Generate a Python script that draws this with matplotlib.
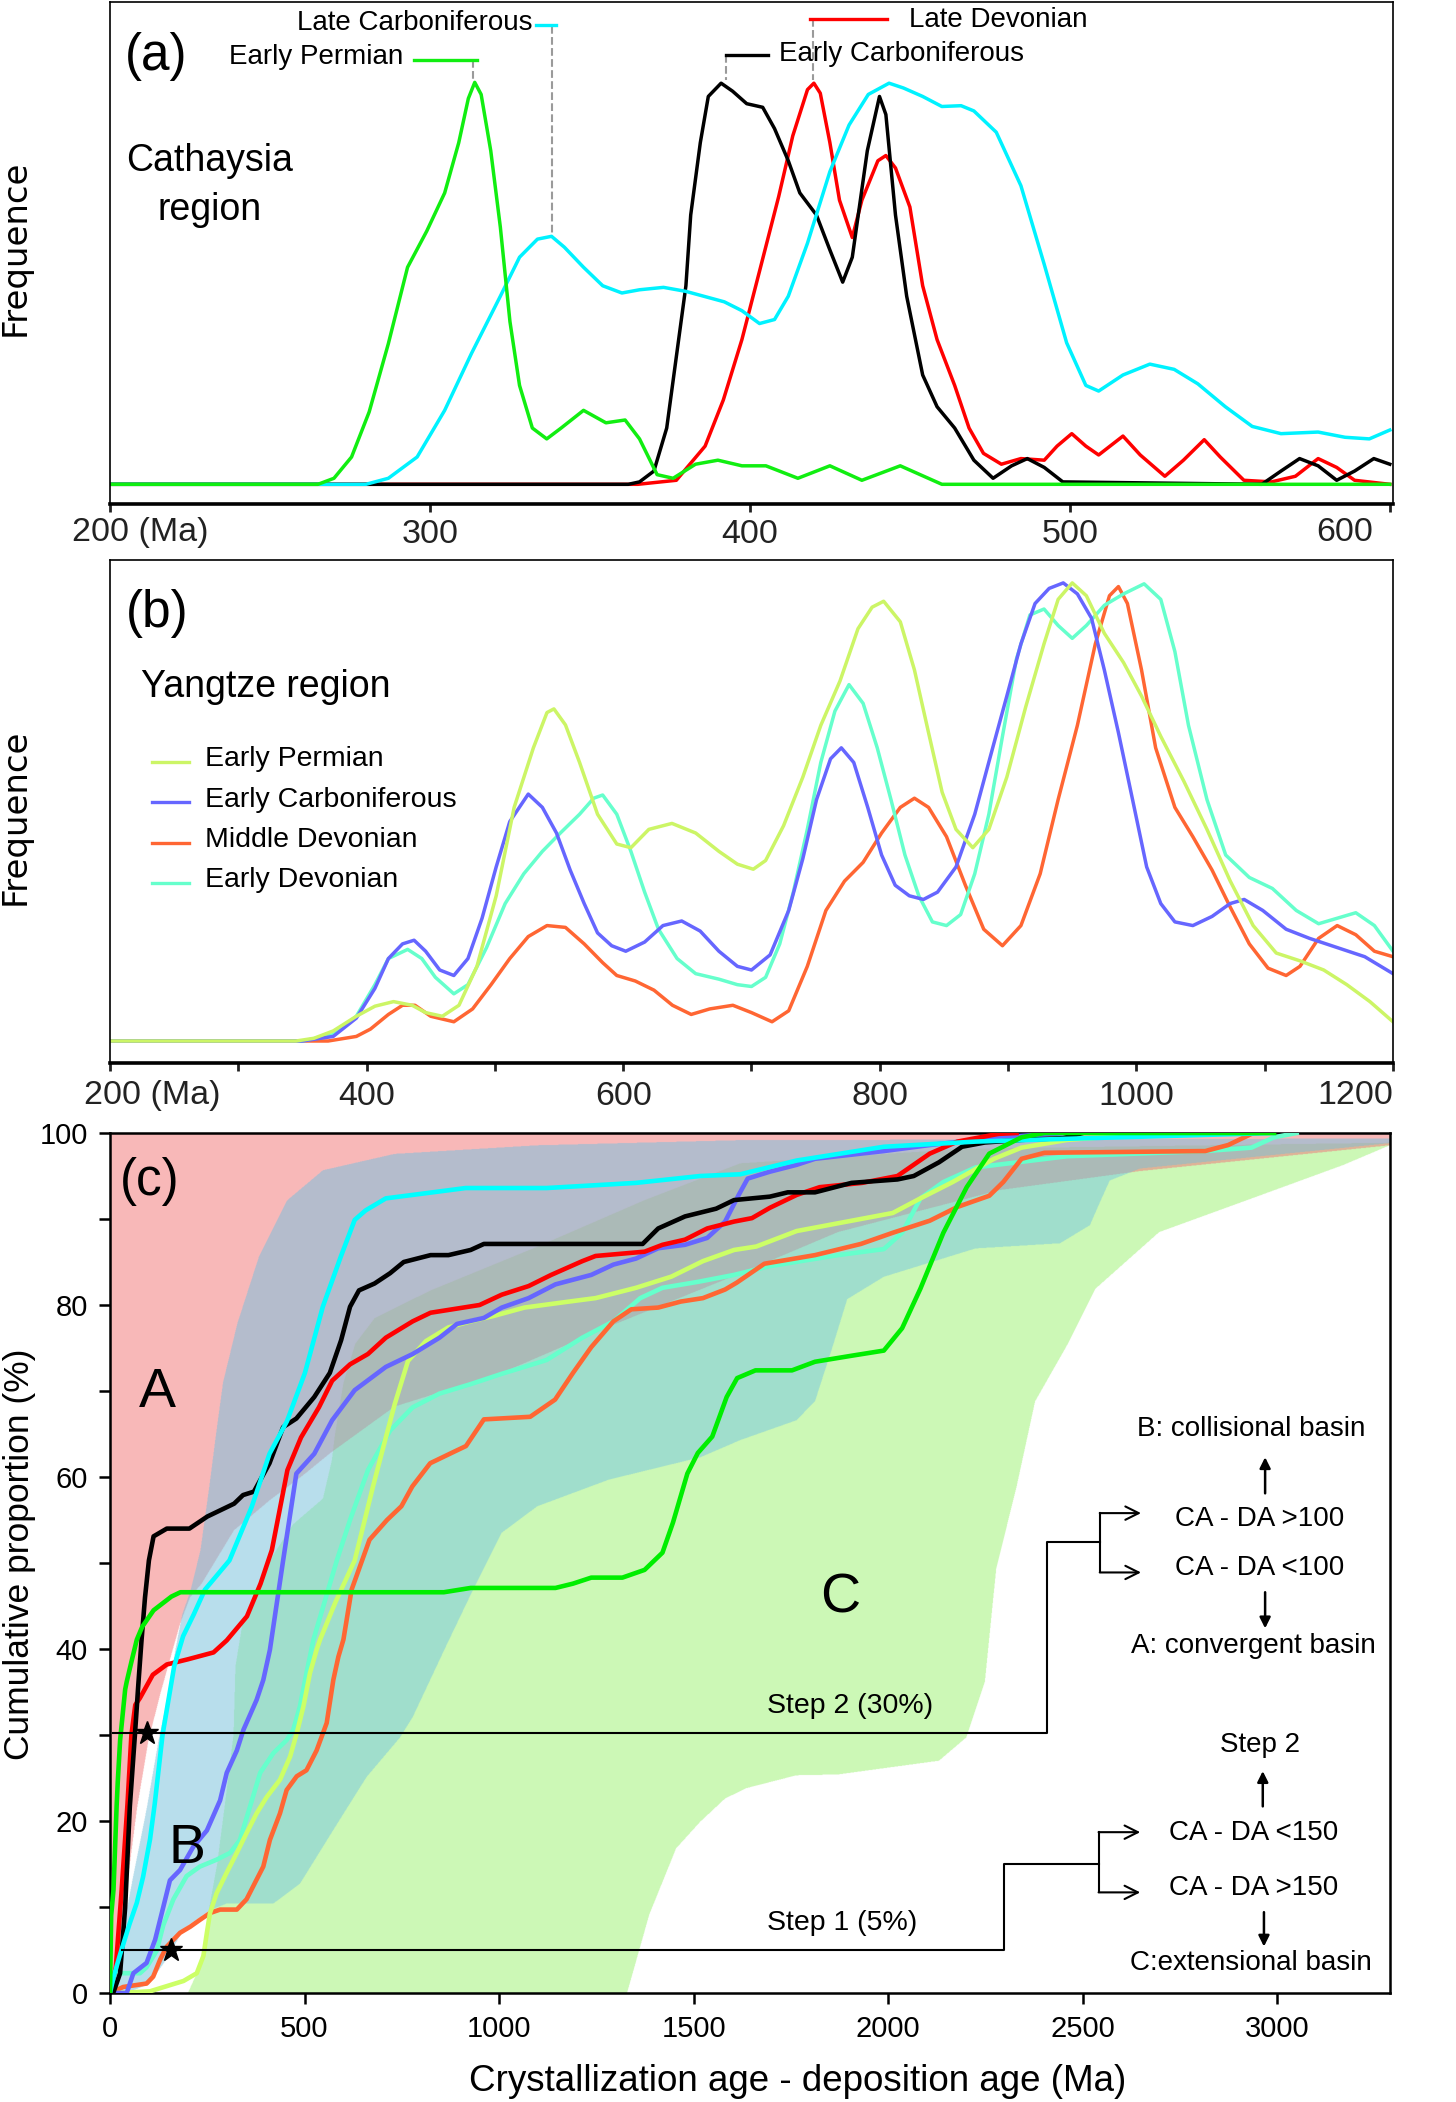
import numpy as np
import matplotlib
matplotlib.use("Agg")
import matplotlib.pyplot as plt
from matplotlib.path import Path
from matplotlib.transforms import ScaledTranslation

plt.rcParams['font.family'] = ['Liberation Sans', 'DejaVu Sans']

# ---------------- panel (a): Cathaysia region, detrital zircon age spectra
a_ep_age = [200, 265, 270, 275.5, 281, 287, 293, 299, 304.6, 309, 312, 314, 316, 319, 322, 325, 328, 332,
            336.5, 341, 348, 355, 361, 365.5, 371, 376, 383, 390, 397.5, 405, 415, 425, 435, 447, 460, 600]
a_ep_freq = [0, 0, 1.5, 6.8, 18, 35, 54, 63, 72.5, 85, 96, 100, 97, 83, 64, 40.5, 24.6, 14,
             11.3, 14, 18.4, 15.3, 16, 11.3, 2.4, 1.5, 5, 6, 4.6, 4.6, 1.5, 4.6, 1, 4.6, 0, 0]

a_lc_age = [200, 280, 287, 296, 304.6, 313, 322, 328, 333.6, 338, 342, 348, 354, 360, 365.5, 373, 380, 392,
            397.5, 403, 407.7, 412, 418, 425, 431, 437, 443.5, 448, 454, 460, 466, 470, 477, 484.7, 492, 499,
            505, 509, 516.6, 525, 532.6, 540, 548.6, 557, 566, 577.6, 586, 593.6, 600]
a_lc_freq = [0, 0, 1.5, 6.8, 18.4, 32.6, 46.8, 56.5, 61, 61.7, 59, 54, 49.4, 47.6, 48.4, 49, 48, 45.4,
             43.2, 40, 41, 46.8, 60, 77.8, 89.4, 97, 99.8, 98.6, 96.5, 94, 94.2, 92.9, 87.6, 74.3, 54.7, 35.2,
             24.6, 23.2, 27.2, 29.9, 28.6, 25, 19.3, 14.4, 12.6, 13, 11.7, 11.3, 13.5]

a_ec_age = [200, 362, 365.5, 370, 374, 377, 380, 381.5, 384.5, 387, 391, 394.6, 399, 404, 407.7, 412, 415.6,
            420.8, 425, 429, 432, 436.7, 440.5, 442.5, 445.5, 449, 454, 458.5, 464, 470, 476, 481.8, 486.7,
            492, 497.8, 560, 566, 571.8, 577.6, 583.4, 589, 595, 600]
a_ec_freq = [0, 0, 0.6, 3.3, 14, 31.7, 49.4, 67, 85, 96.5, 99.8, 97.8, 94.7, 93.8, 88.5, 80.5, 72.5,
             67, 58.3, 50.3, 56.5, 83, 96.5, 92, 67, 46.8, 27.2, 19.3, 14, 6, 1.5, 4.6, 6.4,
             4.2, 0.6, 0, 3.3, 6.4, 4.6, 1, 3.3, 6.4, 5]

a_ld_age = [200, 365, 377, 386, 391.7, 397.5, 403, 409, 413.4, 418, 420, 422, 425, 428, 432, 435, 440, 442.5,
            445.5, 450, 454, 458.5, 464, 468.5, 473, 478.6, 484.7, 492, 496, 500.6, 505, 509, 516.6, 522,
            529.7, 535.5, 542, 547, 554.4, 563, 570.5, 577.6, 583.4, 589, 600]
a_ld_freq = [0, 0, 1, 9.5, 21, 36, 53, 71.6, 86.7, 98.2, 99.8, 97.3, 85, 70.7, 61.4, 70.7, 80.5, 81.8,
             78.7, 69, 49.4, 36, 24.6, 14, 7.7, 5, 6.4, 6, 9.5, 12.6, 9.5, 7.3, 12, 7.3,
             2, 6, 11.1, 6.8, 1, 0.6, 2, 6.4, 4.2, 1, 0]

# ---------------- panel (b): Yangtze region
b_ep_age = [200, 345, 359, 374, 392, 406.5, 421, 435.5, 446, 459, 472, 486, 501, 515, 530, 540.6, 546, 555,
            566, 580, 595, 606, 620, 638, 656.5, 674.6, 689, 701.4, 711, 725, 740, 754, 769, 783, 794, 803,
            816, 827, 838, 848.6, 859.4, 872.5, 885, 899, 913.8, 928, 939, 950, 961, 975, 990, 1004, 1019,
            1037, 1055, 1073, 1091, 1109, 1127.5, 1146, 1164, 1182, 1200]
b_ep_freq = [0, 0, 0.6, 2.2, 5.4, 7.6, 8.6, 7.8, 6.2, 5.4, 7.8, 16.3, 31.7, 51, 64, 71.7, 72.5, 69,
             60.8, 49.5, 43, 42.2, 46.2, 47.5, 45.4, 41.4, 38.6, 37.5, 39.4, 47, 57.6, 68.9, 78.6, 90, 94.7, 96,
             91.5, 81, 67.3, 54.3, 46.2, 42.2, 46.2, 57.6, 73, 86.7, 96.4, 100, 97.2, 89, 82.6, 75.3, 66.5,
             56.7, 46.2, 35, 25.2, 19.2, 17.5, 15.5, 12.3, 8.6, 4.2]

b_ec_age = [200, 350, 374, 392, 406.5, 417, 428, 437, 446, 457, 468, 479, 490, 501, 511.6, 526, 537, 548,
            558.7, 569.6, 580, 591, 602, 616.7, 631, 645.6, 660, 674.6, 689, 700, 714.5, 729, 740, 750.7,
            761.6, 770, 779.7, 790.6, 801.4, 812, 823, 834, 845, 859.4, 874, 888, 899, 910, 921, 932, 943,
            954, 965, 975, 986, 997, 1008, 1019, 1030, 1044, 1059, 1073, 1084, 1098.5, 1116.7, 1135,
            1156.5, 1178, 1200]
b_ec_freq = [0, 0, 1, 5, 11.5, 18, 21.2, 22, 19.6, 15.5, 14.3, 18, 26.8, 38, 47.9, 53.9, 51, 45.4,
             37.3, 30, 23.6, 20.8, 19.6, 21.6, 25.2, 26.2, 24, 19.6, 16.3, 15.5, 18.8, 28.5, 39.8, 52.7,
             61.6, 64, 60.8, 51, 40.6, 34, 31.7, 30.9, 32.5, 38, 49.5, 64, 75.3, 86.7, 95.5, 98.8, 100,
             97.6, 92.3, 81, 67.3, 52.7, 38, 30, 26, 25.2, 27.2, 30, 30.9, 28.5, 24.4, 22.4,
             20.4, 18.4, 14.7]

b_md_age = [200, 370, 392, 403, 417, 428, 437.7, 450, 468, 482.6, 497, 511.6, 526, 540.6, 555, 569.6, 584,
            595, 609.4, 624, 638.4, 653, 667.4, 685.5, 700, 716, 729, 743.5, 758, 772.5, 787, 801.4, 816,
            827, 838, 852, 866.7, 881, 895.6, 910, 925, 939, 954, 968, 979, 986, 993, 1004, 1015, 1030,
            1044, 1059, 1073, 1088, 1102.6, 1116.7, 1127.5, 1142, 1156.5, 1171, 1185.5, 1200]
b_md_freq = [0, 0, 1, 2.6, 5.8, 7.8, 7.8, 5.4, 4.2, 7, 12.3, 18, 22.8, 25.2, 24.8, 21.2, 17.1,
             14.3, 13.1, 11.1, 7.8, 5.8, 7, 7.8, 6.2, 4.2, 6.6, 16.3, 28.5, 34.9, 39, 45.4, 51,
             53, 51, 44.6, 34, 24.4, 20.8, 25.2, 36.5, 52.7, 68.9, 86.7, 97.2, 99.2, 95.5, 81, 64, 51,
             44.6, 37.3, 29.3, 21.2, 15.9, 14.3, 16.3, 22.4, 25.2, 23.2, 19.6, 18.4]

b_ed_age = [200, 350, 374, 392, 406.5, 417, 432, 443, 453.6, 468, 479, 493.5, 508, 522.5, 537, 551, 566,
            577, 584, 595, 606, 616.7, 627.5, 642, 656.5, 674.6, 689, 700, 711, 722, 732.6, 743.5, 754,
            765, 776, 787, 798, 808.7, 819.6, 830.4, 841, 852, 863, 874, 885, 895.6, 906.5, 917, 928, 939,
            950, 961, 975, 990, 1006, 1019, 1030, 1040.6, 1055, 1069.6, 1088, 1106, 1124.6, 1142, 1156.5,
            1171, 1185.5, 1200]
b_ed_freq = [0, 0, 1.4, 5.4, 12.3, 18, 20, 18, 13.9, 10.3, 12.3, 20.4, 30, 36.5, 41.4, 45.4, 49.5,
             53, 53.7, 49.5, 41.4, 32.5, 24.4, 18, 14.7, 13.5, 12.3, 11.9, 13.9, 21.2, 32.5, 46.2, 60.8,
             72, 77.8, 73.7, 64, 52.7, 40.6, 31.7, 26, 25.2, 27.6, 36.5, 49.5, 66.5, 83.4, 93, 94.3, 90.7,
             87.9, 90.7, 95.1, 97.6, 99.8, 96.4, 85, 68.9, 52.7, 40.6, 35.7, 33.3, 28.5, 25.6, 26.8,
             28, 25.2, 19.6]

# ---------------- panel (c): cumulative proportion curves (CA - DA, Ma)
c_ep_x = [0, 3, 9, 17, 20, 26, 39, 43, 55, 69, 83, 112, 158, 181, 858, 927, 1145, 1190, 1237, 1317, 1374,
          1420, 1447, 1484, 1511, 1548, 1585, 1612, 1659, 1753, 1812, 1906, 1989, 2036, 2083, 2142, 2202,
          2260, 2343, 2402, 2992]
c_ep_y = [0, 9, 12, 21.7, 24.6, 29.4, 35.3, 36.2, 38.5, 41.1, 42.6, 44.5, 46.1, 46.6, 46.6, 47.1, 47.1,
          47.6, 48.3, 48.3, 49.2, 51.2, 54.7, 60.4, 62.8, 64.7, 69.3, 71.5, 72.4, 72.4, 73.4, 74.1, 74.7,
          77.3, 81.9, 88.4, 93.7, 97.6, 99.5, 100, 100]

c_lc_x = [0, 10, 26, 50, 69, 85, 103, 115, 125, 135, 150, 165, 188, 215, 244, 307, 364, 410, 455, 501, 547,
          593, 629, 657, 709, 778, 914, 1122, 1352, 1517, 1620, 1765, 1989, 2225, 2437, 2990]
c_lc_y = [0, 2, 4.5, 8, 10.5, 13.5, 17.9, 22, 26, 30, 34, 38, 41.5, 44, 46.9, 50.3, 56.5, 62.7, 66.5,
          72.1, 79.8, 85.6, 89.9, 91, 92.4, 92.8, 93.6, 93.6, 94.2, 95, 95.2, 96.8, 98.4, 99, 99.3, 100]

c_ec_x = [0, 9, 26, 39, 51, 64, 73, 81, 90, 100, 112, 146, 204, 250, 319, 342, 370, 410, 445, 479, 525, 565,
          594, 617, 640, 680, 720, 755, 824, 870, 927, 961, 1369, 1409, 1478, 1558, 1604, 1696, 1742, 1812,
          1906, 2024, 2066, 2131, 2190, 2249, 2343, 2450, 2500]
c_ec_y = [0, 0.1, 2.3, 10, 21.7, 30, 36, 41, 46, 50.3, 53.1, 54, 54, 55.4, 56.9, 57.9, 58.3, 61.6, 65.8,
          66.8, 69.3, 72.1, 75.9, 79.8, 81.7, 82.5, 83.7, 85, 85.8, 85.8, 86.4, 87.1, 87.1, 88.9, 90.3, 91.2,
          92.2, 92.6, 93.1, 93.1, 94.2, 94.6, 95, 96.6, 98.4, 98.9, 99.2, 99.4, 100]

c_ld_x = [0, 15, 30, 45, 55, 65, 77, 110, 146, 200, 266, 300, 352, 387, 416, 456, 491, 537, 571, 617, 663,
          709, 778, 824, 950, 1007, 1076, 1134, 1214, 1248, 1374, 1420, 1478, 1535, 1604, 1650, 1696, 1765,
          1824, 1933, 2024, 2107, 2178, 2284, 2330]
c_ld_y = [0, 3, 12, 22, 30, 33.5, 34.3, 37, 38.2, 38.8, 39.6, 41, 43.8, 47.6, 51.5, 60.8, 64.6, 68.1,
          71.2, 73.1, 74.3, 76.2, 78.1, 79.1, 80, 81.2, 82.2, 83.5, 85.1, 85.7, 86.2, 87, 87.6, 88.9, 89.7,
          90.1, 91.3, 92.8, 93.7, 94.2, 95, 97.6, 99, 99.9, 100]

c_yep_x = [0, 26, 103, 146, 189, 223, 240, 249, 257, 274, 300, 326, 351, 377, 403, 437, 463, 480, 497, 514,
           531, 540, 580, 629, 676, 709, 732, 766, 812, 870, 927, 984, 1065, 1180, 1248, 1352, 1443, 1524,
           1604, 1661, 1765, 1906, 2012, 2083, 2166, 2272, 2343, 2461, 2579, 2700]
c_yep_y = [0, 0, 0.2, 0.8, 1.4, 2.3, 4.3, 7, 9.3, 11.6, 14, 16.3, 18.6, 20.9, 22.8, 24.8, 27.5, 30.2,
           33.3, 37.2, 39.9, 41.1, 45.5, 50.3, 58.9, 64.6, 68.5, 73.5, 75.8, 77.4, 78.1, 78.7, 79.7, 80.4,
           80.8, 82, 83.3, 85.1, 86.4, 86.8, 88.6, 89.8, 90.7, 92.4, 94.3, 97, 98.3, 99.2, 99.6, 100]

c_yec_x = [0, 43, 60, 94, 116, 137, 154, 180, 214, 249, 283, 300, 326, 343, 377, 394, 411, 445, 479, 525,
           571, 629, 709, 778, 847, 892, 961, 1007, 1076, 1145, 1237, 1294, 1352, 1409, 1478, 1535, 1581,
           1616, 1639, 1696, 1765, 1812, 1989, 2107, 2284, 2461]
c_yec_y = [0, 0, 2.3, 3.5, 6.2, 10, 13.1, 14.3, 17, 18.9, 22.4, 25.6, 28.2, 30.6, 34.1, 36.4, 39.9, 50.3,
           60.4, 62.7, 66.6, 70.1, 72.8, 74.3, 76.2, 77.8, 78.5, 79.7, 80.8, 82.4, 83.5, 84.7, 85.4, 86.6,
           87, 87.8, 89.7, 92.8, 94.7, 95.5, 96.3, 97, 97.9, 98.6, 99.5, 100]

c_md_x = [0, 34, 94, 111, 129, 146, 163, 180, 206, 231, 257, 283, 326, 351, 377, 394, 411, 437, 454, 480,
          505, 531, 557, 574, 587, 600, 621, 667, 712, 749, 777, 823, 878, 915, 961, 1080, 1144, 1190, 1237,
          1294, 1340, 1409, 1467, 1524, 1581, 1611, 1682, 1812, 1930, 2012, 2107, 2178, 2260, 2296, 2343,
          2402, 2815, 2874, 2934, 2950]
c_md_y = [0, 0.7, 1.1, 1.9, 3.9, 5.4, 6.2, 7, 7.7, 8.5, 9.3, 9.7, 9.7, 10.9, 13.2, 14.7, 17.8, 20.9,
          23.6, 25.2, 25.9, 28.2, 31.4, 36.4, 39.1, 41.1, 46.9, 52.7, 55, 56.6, 58.9, 61.6, 62.8, 63.6,
          66.7, 67, 69, 72.1, 75.1, 78.1, 79.5, 79.7, 80.4, 80.8, 81.8, 82.6, 84.8, 85.8, 87.1, 88.4, 89.8,
          91.4, 92.7, 94.3, 97, 97.7, 97.9, 98.6, 99.9, 100]

c_ed_x = [0, 8, 77, 94, 120, 137, 163, 197, 231, 274, 309, 334, 360, 386, 420, 454, 471, 488, 505, 523, 583,
          617, 663, 720, 778, 847, 927, 1007, 1122, 1214, 1294, 1363, 1420, 1512, 1604, 1694, 1871, 1989,
          2036, 2083, 2142, 2225, 2461, 2815, 2934, 2992, 3050]
c_ed_y = [0, 2.3, 2.3, 3, 4.9, 7.9, 10.9, 13.6, 14.7, 15.5, 16.3, 17.8, 21.7, 25.6, 27.9, 29.4, 30.6,
          33.3, 37.2, 41.1, 50.3, 55, 60.8, 65.4, 68.1, 69.7, 70.8, 72, 73.6, 76.2, 78.1, 80.8, 82, 82.7,
          83.5, 84.5, 85.8, 86.5, 88.4, 92.4, 94.3, 96, 97.3, 97.9, 98.3, 99.5, 100]

# ---------------- panel (c): tectonic fields (A convergent, B collisional, C extensional)
A_lower_x = [0, 20, 47, 69, 98, 130, 155, 180, 205, 235, 318, 410, 501, 566, 731, 1006, 1282, 1620, 1871,
             2288, 2648, 3290]
A_lower_y = [0, 4, 13.8, 21.5, 29.3, 35, 39, 43, 46, 47.6, 53.8, 57.3, 60.4, 62.8, 68.2, 72.1, 77.5, 83.7,
             88.5, 93.4, 95.6, 98.6]
B_left_x = [0, 8, 34, 60, 94, 124, 150, 168, 185, 207, 232, 255, 272, 290, 327, 382, 455, 547, 731, 1098,
            1620, 2500, 3290]
B_left_y = [0, 1.8, 7.6, 13.8, 21.5, 29.3, 35, 40, 44, 46.9, 51.5, 59, 65, 71, 77.9, 85.6, 92.2, 95.7,
            97.6, 98.6, 99.2, 99.3, 99.4]
B_lower_x = [0, 60, 100, 146, 190, 257, 300, 420, 488, 573, 659, 745, 778, 860, 933, 1006, 1098, 1282,
             1517, 1620, 1764, 1812, 1859, 1895, 1989, 2225, 2442, 2519, 2545, 2570, 2648, 3290]
B_lower_y = [0, 0.3, 1, 4, 7.5, 9.6, 10.4, 10.4, 12.7, 18.9, 25.1, 29.7, 32.1, 40, 46.9, 53.5, 56.6, 59.7,
             62.3, 64.3, 66.6, 68.8, 75.4, 80.7, 83.3, 86.6, 87.2, 89.3, 92, 94.5, 95.9, 98.85]
C_left_x = [200, 223, 245, 255, 275, 295, 317, 322, 340, 375, 420, 470, 547, 570, 578, 600, 630, 680, 823,
            1098, 1373, 1620, 2200, 3290]
C_left_y = [0, 2.3, 6, 10, 15, 22, 30, 38, 43, 47, 51, 54.5, 57.5, 62, 65, 71, 75.5, 78.5, 81.7, 86.8,
            92.2, 96.5, 98.2, 98.9]
C_right_x = [1329, 1386, 1455, 1517, 1581, 1635, 1764, 1871, 2131, 2201, 2249, 2278, 2331, 2378, 2461,
             2533, 2697, 2934, 3170, 3290]
C_right_y = [0, 9.1, 16.8, 19.9, 22.6, 23.8, 25.3, 25.4, 27, 29.7, 36.2, 49.3, 59, 68.8, 75.4, 81.9, 88.5,
             92.4, 96.3, 98.6]

# colour of each overlap (A, B, C membership)
field_colors = {
    (0, 0, 0): '#ffffff', (1, 0, 0): '#f8b9b9', (0, 1, 0): '#b9deec', (0, 0, 1): '#ccf8b6',
    (1, 1, 0): '#b5bccc', (0, 1, 1): '#a0dfcc', (1, 0, 1): '#dfb497', (1, 1, 1): '#abbab7',
}

fig = plt.figure(figsize=(14.56, 21.02), dpi=100)
W, H = 1456, 2102
ax_a = fig.add_axes([110 / W, 1 - 504 / H, 1283 / W, 502 / H])
ax_b = fig.add_axes([110 / W, 1 - 1063 / H, 1283 / W, 503 / H])
ax_c = fig.add_axes([110 / W, 1 - 1993 / H, 1280 / W, 860 / H])

tick_col = '#222222'


def style_kde_axis(ax, ticks, labels, first, last, first_dx, last_dx, dy, pad):
    ax.set_yticks([])
    for s in ['top', 'right', 'left']:
        ax.spines[s].set_linewidth(1.2)
    ax.spines['bottom'].set_linewidth(2.6)
    ax.set_xticks(ticks)
    ax.set_xticklabels(labels)
    ax.tick_params(axis='x', direction='out', length=6, width=2, pad=pad, labelsize=24.5, colors=tick_col)
    tr = ax.get_xaxis_transform()
    ax.text(ticks[0], 0, first, ha='left', va='center', fontsize=24.5, color=tick_col,
            transform=tr + ScaledTranslation(first_dx, dy, fig.dpi_scale_trans))
    ax.text(ticks[-1], 0, last, ha='right', va='center', fontsize=24.5, color=tick_col,
            transform=tr + ScaledTranslation(last_dx, dy, fig.dpi_scale_trans))
    ax.set_ylabel('Frequence', fontsize=24.5, family='DejaVu Sans')


# ---- (a)
lw_k = 2.5
kde = dict(lw=lw_k, solid_joinstyle='round')
ax_a.plot(a_ld_age, a_ld_freq, color='#ff0000', **kde)
ax_a.plot(a_ec_age, a_ec_freq, color='black', **kde)
ax_a.plot(a_lc_age, a_lc_freq, color='#00f2ff', **kde)
ax_a.plot(a_ep_age, a_ep_freq, color='#11ee11', **kde)
ax_a.set_xlim(200, 601)
ax_a.set_ylim(-4.9, 120)
style_kde_axis(ax_a, [200, 300, 400, 500, 600], ['', '300', '400', '500', ''],
               '200 (Ma)', '600', -0.38, -0.17, -0.285, 5)
ax_a.yaxis.set_label_coords(-0.061, 0.51)

# peak labels with dashed leaders
lead = dict(ls='--', color='#9a9a9a', lw=1.5)
ax_a.plot([338, 338], [114, 62.6], **lead)
ax_a.plot([333, 339.5], [114.2, 114.2], color='#00f2ff', lw=2.4)
ax_a.text(332, 114.8, 'Late Carboniferous', ha='right', va='center', fontsize=20)
ax_a.plot([313.3, 313.3], [105.6, 100.6], **lead)
ax_a.plot([295, 314.7], [105.6, 105.6], color='#11ee11', lw=2.4)
ax_a.text(291.5, 106.2, 'Early Permian', ha='right', va='center', fontsize=20)
ax_a.plot([419.6, 419.6], [115.8, 100.6], **lead)
ax_a.plot([418.7, 443], [115.8, 115.8], color='#ff0000', lw=2.4)
ax_a.text(449.8, 115.6, 'Late Devonian', ha='left', va='center', fontsize=20)
ax_a.plot([392.6, 392.6], [106.9, 100.6], **lead)
ax_a.plot([392.6, 405.7], [106.9, 106.9], color='black', lw=2.4)
ax_a.text(409, 107.1, 'Early Carboniferous', ha='left', va='center', fontsize=20)
ax_a.text(214.5, 106.5, '(a)', ha='center', va='center', fontsize=37)
ax_a.text(231, 80.4, 'Cathaysia', ha='center', va='center', fontsize=27)
ax_a.text(231, 68.2, 'region', ha='center', va='center', fontsize=27)

# ---- (b)
ax_b.plot(b_md_age, b_md_freq, color='#ff6633', **kde)
ax_b.plot(b_ed_age, b_ed_freq, color='#66ffcc', **kde)
ax_b.plot(b_ec_age, b_ec_freq, color='#6666ff', **kde)
ax_b.plot(b_ep_age, b_ep_freq, color='#ccf566', **kde)
ax_b.set_xlim(200, 1200)
ax_b.set_ylim(-4.8, 105)
b_ticks = list(range(200, 1201, 100))
b_labels = [str(t) if (t % 200 == 0 and 200 < t < 1200) else '' for t in b_ticks]
style_kde_axis(ax_b, b_ticks, b_labels, '200 (Ma)', '1200', -0.26, 0.0, -0.325, 7)
ax_b.yaxis.set_label_coords(-0.061, 0.49)
ax_b.text(236.6, 93.4, '(b)', ha='center', va='center', fontsize=37)
ax_b.text(224, 77.3, 'Yangtze region', ha='left', va='center', fontsize=27)
b_leg = [('Early Permian', '#ccf566', 61), ('Early Carboniferous', '#6666ff', 52.1),
         ('Middle Devonian', '#ff6633', 43.2), ('Early Devonian', '#66ffcc', 34.5)]
for name, col, yy in b_leg:
    ax_b.plot([232.6, 261.6], [yy, yy], color=col, lw=2.4)
    ax_b.text(274, yy + 0.6, name, ha='left', va='center', fontsize=20.5)

# ---- (c) fields rasterised from polygons
nx, ny = 2560, 1720
gx = np.linspace(0, 3290, nx)
gy = np.linspace(0, 100, ny)
GX, GY = np.meshgrid(gx, gy)
pts = np.column_stack([GX.ravel(), GY.ravel()])


def inside(xs, ys):
    return Path(np.column_stack([xs, ys])).contains_points(pts).reshape(ny, nx)


inA = inside(A_lower_x + [3300, 3300, -10, -10], A_lower_y + [98.6, 101, 101, -1])
inB = inside([-5] + B_left_x + [3300, 3300] + B_lower_x[::-1],
             [-1] + B_left_y + [99.4, 98.85] + B_lower_y[::-1])
inC = inside(C_left_x + [3300, 3300] + C_right_x[::-1] + [1329, 200],
             C_left_y + [98.9, 98.6] + C_right_y[::-1] + [-1, -1])
img = np.ones((ny, nx, 3))
for key, col in field_colors.items():
    m = (inA == key[0]) & (inB == key[1]) & (inC == key[2])
    img[m] = matplotlib.colors.to_rgb(col)
ax_c.imshow(img, extent=[0, 3290, 0, 100], origin='lower', aspect='auto',
            interpolation='antialiased', zorder=0)

cum = dict(lw=3.3, solid_joinstyle='round', zorder=3)
ax_c.plot(c_ed_x, c_ed_y, color='#66ffcc', **cum)
ax_c.plot(c_md_x, c_md_y, color='#ff6633', **cum)
ax_c.plot(c_yep_x, c_yep_y, color='#ccff66', **cum)
ax_c.plot(c_yec_x, c_yec_y, color='#6666ff', **cum)
ax_c.plot(c_ld_x, c_ld_y, color='#ff0000', **cum)
ax_c.plot(c_ec_x, c_ec_y, color='black', **cum)
ax_c.plot(c_lc_x, c_lc_y, color='#00ffff', **cum)
ax_c.plot(c_ep_x, c_ep_y, color='#00ee00', **cum)

ax_c.set_xlim(0, 3290)
ax_c.set_ylim(0, 100)
ax_c.set_xticks(range(0, 3001, 500))
ax_c.set_yticks(range(0, 101, 10))
ax_c.set_yticklabels([str(v) if v % 20 == 0 else '' for v in range(0, 101, 10)])
ax_c.tick_params(direction='out', length=8, width=1.8, labelsize=21, pad=8)
for s in ax_c.spines.values():
    s.set_linewidth(1.8)
ax_c.set_xlabel('Crystallization age - deposition age (Ma)', fontsize=26.5)
ax_c.xaxis.set_label_coords(0.5375, -0.082)
ax_c.set_ylabel('Cumulative proportion (%)', fontsize=25.5)
ax_c.yaxis.set_label_coords(-0.058, 0.51)

# step lines, stars and decision chart
ln = dict(color='black', lw=1.5, zorder=4)
ax_c.plot([8, 2408, 2408, 2544], [30.2, 30.2, 52.4, 52.4], **ln)
ax_c.plot([2544, 2544], [48.9, 55.8], **ln)
ax_c.plot([30, 2299, 2299, 2541], [5, 5, 15, 15], **ln)
ax_c.plot([2541, 2541], [11.7, 18.7], **ln)
arr = dict(arrowstyle='->', lw=1.5, mutation_scale=24, color='black', shrinkA=0, shrinkB=0)
for x0, x1, yy in [(2544, 2650, 55.8), (2544, 2650, 48.9), (2541, 2648, 18.7), (2541, 2648, 11.7)]:
    ax_c.annotate('', xy=(x1, yy), xytext=(x0, yy), arrowprops=arr, zorder=4)
varr = dict(arrowstyle='-|>', lw=1.8, mutation_scale=16, color='black', shrinkA=0, shrinkB=0)
for xx, y0, y1 in [(2969, 58.1, 62.3), (2969, 46.6, 42.4), (2963, 21.7, 25.8), (2966, 9.4, 5.4)]:
    ax_c.annotate('', xy=(xx, y1), xytext=(xx, y0), arrowprops=varr, zorder=4)
ax_c.plot([95, 158], [30.2, 5], ls='none', marker='*', ms=17, color='black', zorder=5)

ax_c.text(1903, 33.4, 'Step 2 (30%)', ha='center', va='center', fontsize=20.5)
ax_c.text(1882, 8.1, 'Step 1 (5%)', ha='center', va='center', fontsize=20.5)
chart_txt = [('B: collisional basin', 2933, 65.6), ('CA - DA >100', 2955, 55.1),
             ('CA - DA <100', 2955, 49.4), ('A: convergent basin', 2939, 40.3),
             ('Step 2', 2955, 28.8), ('CA - DA <150', 2939, 18.6),
             ('CA - DA >150', 2939, 12.2), ('C:extensional basin', 2933, 3.5)]
for t, xx, yy in chart_txt:
    ax_c.text(xx, yy, t, ha='center', va='center', fontsize=20)
ax_c.text(103, 94.4, '(c)', ha='center', va='center', fontsize=37)
ax_c.text(123, 69.8, 'A', ha='center', va='center', fontsize=40)
ax_c.text(199, 16.8, 'B', ha='center', va='center', fontsize=40)
ax_c.text(1877, 45.9, 'C', ha='center', va='center', fontsize=40)

fig.savefig('out.png', dpi=100)
